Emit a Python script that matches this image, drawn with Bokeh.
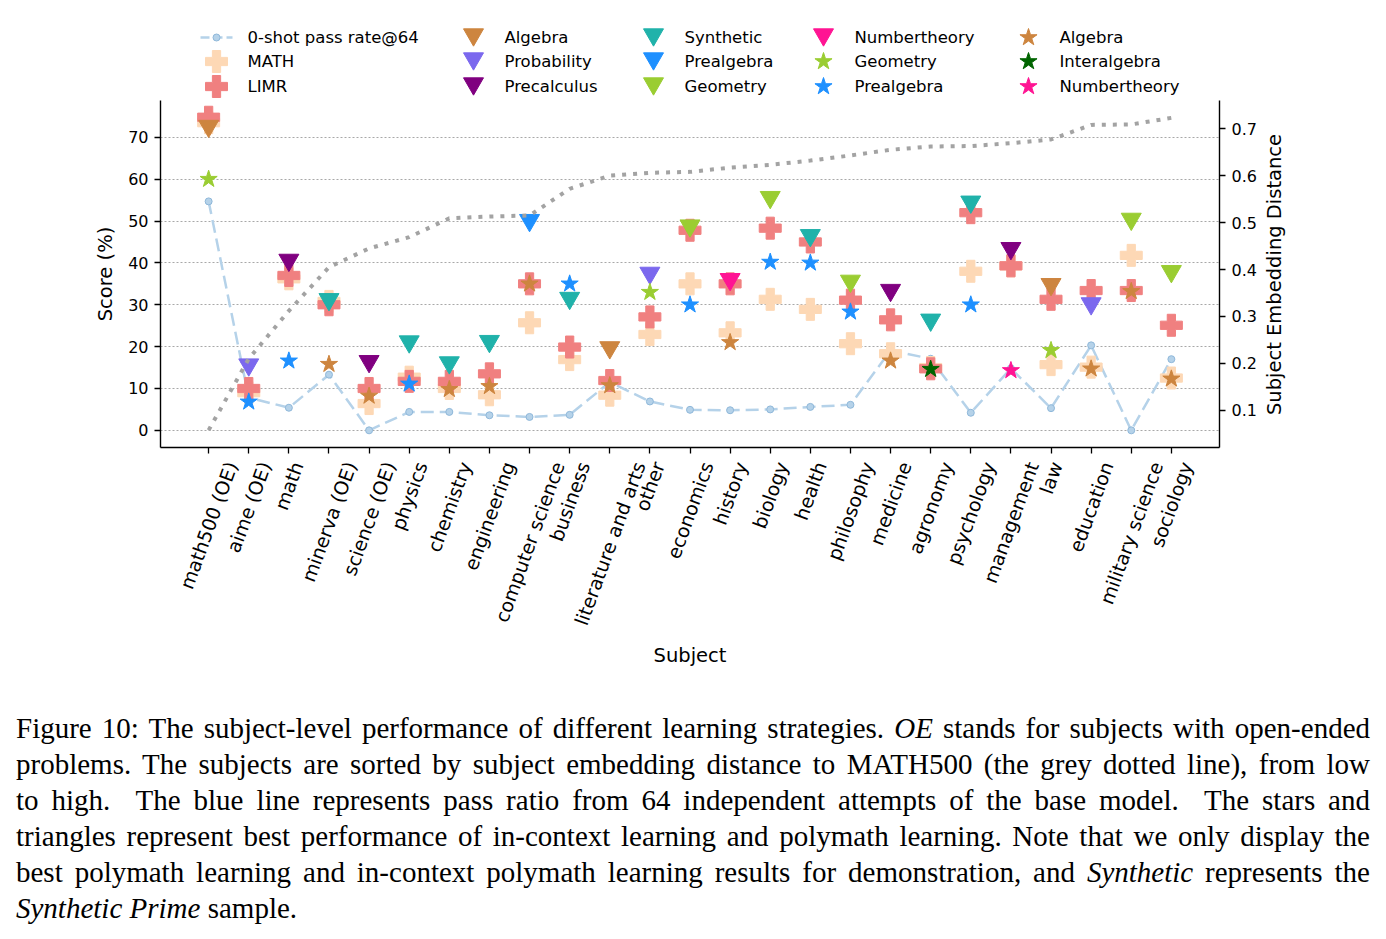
import math

from bokeh.core.properties import value
from bokeh.embed import file_html
from bokeh.layouts import column, row
from bokeh.models import (ColumnDataSource, Div, FixedTicker, Grid,
                          LinearAxis, Range1d)
from bokeh.plotting import figure
from bokeh.resources import INLINE
from bokeh.transform import dodge

# ---------------------------------------------------------------- data
subjects = [
    "math500 (OE)", "aime (OE)", "math", "minerva (OE)", "science (OE)",
    "physics", "chemistry", "engineering", "computer science", "business",
    "literature and arts", "other", "economics", "history", "biology",
    "health", "philosophy", "medicine", "agronomy", "psychology",
    "management", "law", "education", "military science", "sociology",
]

# subject embedding distance to MATH500 (right axis)
embed_dist = [0.058, 0.210, 0.312, 0.405, 0.445, 0.469, 0.509, 0.513, 0.515,
              0.572, 0.600, 0.606, 0.608, 0.617, 0.623, 0.632, 0.643, 0.655,
              0.662, 0.663, 0.669, 0.677, 0.708, 0.709, 0.723]

# 0-shot pass rate@64 of the base model (%)
pass_at_64 = [54.7, 7.8, 5.4, 13.3, 0.0, 4.4, 4.4, 3.6, 3.2, 3.7, 11.5, 6.9,
              4.9, 4.8, 5.0, 5.6, 6.1, 19.1, 17.1, 4.2, 14.8, 5.3, 20.3, 0.0,
              17.0]

math_score = [73.5, 9.0, 36.2, 30.8, 6.4, 12.7, 10.0, 8.5, 25.7, 16.9, 8.4,
              22.9, 35.0, 23.3, 31.3, 28.9, 20.7, 18.3, 15.0, 38.0, 39.3,
              15.7, 15.1, 41.8, 12.5]

limr_score = [74.8, 10.0, 37.0, 30.0, 10.0, 11.7, 11.7, 13.5, 35.0, 19.9,
              11.9, 27.1, 47.8, 35.0, 48.3, 45.0, 31.1, 26.4, 14.7, 52.0,
              39.3, 31.3, 33.4, 33.4, 25.1]

# best polymath learning result and the subject it was trained on
poly_best = [72.0, 15.0, 40.0, 30.6, 15.8, 20.5, 15.5, 20.6, 49.5, 30.9,
             19.1, 36.9, 48.2, 35.4, 55.0, 45.9, 35.0, 32.8, 25.7, 53.9,
             42.8, 34.2, 29.6, 49.8, 37.3]
poly_source = ["Algebra", "Probability", "Precalculus", "Synthetic",
               "Precalculus", "Synthetic", "Synthetic", "Synthetic",
               "Prealgebra", "Synthetic", "Algebra", "Probability",
               "Geometry", "Numbertheory", "Geometry", "Synthetic",
               "Geometry", "Precalculus", "Synthetic", "Synthetic",
               "Precalculus", "Algebra", "Probability", "Geometry",
               "Geometry"]

# best in-context learning result and the subject of its demonstrations
icl_best = [60.0, 6.8, 16.6, 15.8, 8.2, 11.1, 9.8, 10.5, 35.0, 35.0, 10.7,
            33.0, 30.0, 21.0, 40.2, 40.0, 28.3, 16.6, 14.6, 30.0, 14.3, 19.1,
            14.7, 33.2, 12.3]
icl_source = ["Geometry", "Prealgebra", "Prealgebra", "Algebra", "Algebra",
              "Prealgebra", "Algebra", "Algebra", "Algebra", "Prealgebra",
              "Algebra", "Geometry", "Prealgebra", "Algebra", "Prealgebra",
              "Prealgebra", "Prealgebra", "Algebra", "Interalgebra",
              "Prealgebra", "Numbertheory", "Geometry", "Algebra", "Algebra",
              "Algebra"]

score_ticks = [0, 10, 20, 30, 40, 50, 60, 70]
dist_ticks = [0.1, 0.2, 0.3, 0.4, 0.5, 0.6, 0.7]

poly_order = ["Algebra", "Probability", "Precalculus", "Synthetic",
              "Prealgebra", "Geometry", "Numbertheory"]
icl_order = ["Geometry", "Prealgebra", "Algebra", "Interalgebra",
             "Numbertheory"]

# ---------------------------------------------------------------- styles
SUBJECT_COLORS = {
    "Algebra": "#CD853F", "Probability": "#7B68EE", "Precalculus": "#800080",
    "Synthetic": "#20B2AA", "Prealgebra": "#1E90FF", "Geometry": "#9ACD32",
    "Numbertheory": "#FF1493", "Interalgebra": "#006400",
}
MATH_COLOR = "#FDD8B5"
LIMR_COLOR = "#F08080"
PASS_COLOR = "#B5D2E9"
PASS_EDGE = "#8FB8DA"
DIST_COLOR = "#A3A3A3"
FONT = "DejaVu Sans"

PLUS_SIZE = 22
TRI_SIZE = 20
STAR_SIZE = 18
DOT_SIZE = 7

Y_START, Y_END = -4.1, 78.8
D_START, D_END = 0.021, 0.760
X_START, X_END = -1.2, 25.2

BORDER_L, BORDER_R = 160, 167
PAGE_W = 1386
FRAME_H = 347
LEGEND_H = 100
MAIN_H = FRAME_H + 8
TICKS_H = 690 - LEGEND_H - MAIN_H
TITLE_STRIP_W = 124          # right-hand strip holding the distance title
MAIN_W = PAGE_W - TITLE_STRIP_W

n = len(subjects)
xs = list(range(n))

# inverted triangles are anchored at their centroid; lift them so the
# box centre sits on the value
tri_lift = (TRI_SIZE * math.sqrt(3) / 2 / 6) * (Y_END - Y_START) / FRAME_H

# ---------------------------------------------------------------- main plot
p = figure(width=MAIN_W, height=MAIN_H, x_range=Range1d(X_START, X_END),
           y_range=Range1d(Y_START, Y_END), x_axis_type=None,
           y_axis_type=None, toolbar_location=None, output_backend="svg",
           min_border_left=BORDER_L,
           min_border_right=BORDER_R - TITLE_STRIP_W,
           min_border_top=0, min_border_bottom=MAIN_H - FRAME_H)
p.outline_line_color = None
p.background_fill_color = "white"
p.border_fill_color = "white"
p.extra_y_ranges = {"dist": Range1d(D_START, D_END)}


def style_axis(ax, label_size="19.5px"):
    ax.axis_line_width = 1.4
    ax.axis_line_color = "black"
    ax.major_tick_line_width = 1.3
    ax.major_tick_line_color = "black"
    ax.major_tick_out = 6
    ax.major_tick_in = 0
    ax.minor_tick_out = 0
    ax.minor_tick_in = 0
    ax.major_label_text_font = FONT
    ax.major_label_text_font_size = "16px"
    ax.major_label_text_color = "black"
    ax.major_label_standoff = 6
    ax.axis_label_text_font = FONT
    ax.axis_label_text_font_size = label_size
    ax.axis_label_text_font_style = "normal"
    ax.axis_label_text_color = "black"


left_ticker = FixedTicker(ticks=score_ticks)
yaxis = LinearAxis(ticker=left_ticker, axis_label="Score (%)")
style_axis(yaxis)
yaxis.axis_label_standoff = 8
p.add_layout(yaxis, "left")

raxis = LinearAxis(y_range_name="dist", ticker=FixedTicker(ticks=dist_ticks))
style_axis(raxis)
p.add_layout(raxis, "right")

xaxis = LinearAxis(ticker=FixedTicker(ticks=xs))
style_axis(xaxis)
xaxis.major_label_overrides = {i: "" for i in xs}
xaxis.major_label_text_font_size = "0px"
xaxis.major_label_standoff = 0
p.add_layout(xaxis, "below")

p.add_layout(Grid(dimension=1, ticker=left_ticker, grid_line_color="#A8A8A8",
                  grid_line_width=1, grid_line_dash="2 2"))

# 0-shot pass rate line
p.line(xs, pass_at_64, line_color=PASS_COLOR, line_width=2.5,
       line_dash="13 6")
p.scatter(xs, pass_at_64, marker="circle", size=DOT_SIZE,
          fill_color=PASS_COLOR, line_color=PASS_EDGE, line_width=1)

# MATH and LIMR scores
p.scatter(xs, math_score, marker="plus", size=PLUS_SIZE,
          fill_color=MATH_COLOR, line_color=MATH_COLOR, line_width=1)
p.scatter(xs, limr_score, marker="plus", size=PLUS_SIZE,
          fill_color=LIMR_COLOR, line_color=LIMR_COLOR, line_width=1)

# best polymath learning (triangles), grouped by training subject
for subj in poly_order:
    idx = [i for i in xs if poly_source[i] == subj]
    src = ColumnDataSource(dict(x=idx, y=[poly_best[i] for i in idx]))
    c = SUBJECT_COLORS[subj]
    p.scatter(x="x", y=dodge("y", tri_lift), source=src,
              marker="inverted_triangle", size=TRI_SIZE, fill_color=c,
              line_color=c, line_width=1)

# best in-context learning (stars), grouped by demonstration subject
for subj in icl_order:
    idx = [i for i in xs if icl_source[i] == subj]
    src = ColumnDataSource(dict(x=idx, y=[icl_best[i] for i in idx]))
    c = SUBJECT_COLORS[subj]
    p.scatter(x="x", y="y", source=src, marker="star", size=STAR_SIZE,
              fill_color=c, line_color=c, line_width=1)

# embedding distance on the secondary axis
p.line(xs, embed_dist, y_range_name="dist", line_color=DIST_COLOR,
       line_width=4, line_dash="4 7")

# ---------------------------------------------------------------- right title
# the secondary-axis title reads bottom-to-top, beside the distance ticks
side = figure(width=TITLE_STRIP_W, height=MAIN_H,
              x_range=Range1d(0, TITLE_STRIP_W), y_range=Range1d(MAIN_H, 0),
              x_axis_type=None, y_axis_type=None, toolbar_location=None,
              output_backend="svg", min_border=0)
side.outline_line_color = None
side.grid.visible = False
side.text([12], [178], text=["Subject Embedding Distance"], angle=90,
          angle_units="deg", text_align="center", text_baseline="middle",
          text_font=value(FONT), text_font_size="19.5px", text_color="black")

# ---------------------------------------------------------------- tick labels
# a strip below the plot that shares its x range: rotated subject names,
# each centred under its tick like a 70 degree label box, and the x title
CHAR_EM = {
    "a": .613, "b": .635, "c": .550, "d": .635, "e": .615, "f": .352,
    "g": .635, "h": .634, "i": .278, "j": .278, "k": .579, "l": .278,
    "m": .974, "n": .634, "o": .612, "p": .635, "q": .635, "r": .411,
    "s": .521, "t": .392, "u": .634, "v": .592, "w": .818, "x": .592,
    "y": .592, "z": .525, " ": .318, "(": .390, ")": .390, "O": .787,
    "E": .632, "0": .636, "5": .636,
}
TICK_FONT_PX = 19
ANGLE = 70
TITLE_BORDER = 47
strip_frame_h = TICKS_H - TITLE_BORDER
LABEL_ANCHOR_Y = 7


def text_px(s, size):
    return sum(CHAR_EM.get(ch, 0.6) for ch in s) * size


ticks_fig = figure(width=PAGE_W, height=TICKS_H, x_range=p.x_range,
                   y_range=Range1d(strip_frame_h, 0), x_axis_type=None,
                   y_axis_type=None, toolbar_location=None,
                   output_backend="svg", min_border_left=BORDER_L,
                   min_border_right=BORDER_R, min_border_top=0,
                   min_border_bottom=TITLE_BORDER)
ticks_fig.outline_line_color = None
ticks_fig.grid.visible = False

label_xoff = [0.5 * text_px(s, TICK_FONT_PX) * math.cos(math.radians(ANGLE))
              for s in subjects]
label_src = ColumnDataSource(dict(x=xs, y=[LABEL_ANCHOR_Y] * n,
                                  text=subjects, xoff=label_xoff))
ticks_fig.text(x="x", y="y", text="text", source=label_src, angle=ANGLE,
               angle_units="deg", x_offset="xoff", text_align="right",
               text_baseline="middle", text_font=value(FONT),
               text_font_size=f"{TICK_FONT_PX}px", text_color="black")

title_axis = LinearAxis(ticker=FixedTicker(ticks=[]), axis_label="Subject")
style_axis(title_axis)
title_axis.axis_line_color = None
title_axis.major_tick_out = 0
title_axis.major_label_text_font_size = "0px"
title_axis.major_label_standoff = 0
title_axis.axis_label_standoff = 0
ticks_fig.add_layout(title_axis, "below")

# ---------------------------------------------------------------- legend
leg = figure(width=PAGE_W, height=LEGEND_H,
             x_range=Range1d(BORDER_L, PAGE_W - BORDER_R),
             y_range=Range1d(LEGEND_H, 0), x_axis_type=None,
             y_axis_type=None, toolbar_location=None, output_backend="svg",
             min_border_left=BORDER_L, min_border_right=BORDER_R,
             min_border_top=0, min_border_bottom=0)
leg.outline_line_color = None
leg.grid.visible = False

legend_entries = (
    [("0-shot pass rate@64", "line", PASS_COLOR),
     ("MATH", "plus", MATH_COLOR),
     ("LIMR", "plus", LIMR_COLOR)]
    + [(s, "inverted_triangle", SUBJECT_COLORS[s]) for s in poly_order]
    + [(s, "star", SUBJECT_COLORS[s]) for s in icl_order]
)
LEG_COL_X = [216, 473, 653, 823, 1028]
LEG_ROW_Y = [37, 61, 86]
LEG_TEXT_GAP = 31
LEG_SIZES = {"plus": PLUS_SIZE, "inverted_triangle": TRI_SIZE,
             "star": STAR_SIZE}

for k, (label, kind, color) in enumerate(legend_entries):
    gx, gy = LEG_COL_X[k // 3], LEG_ROW_Y[k % 3]
    if kind == "line":
        leg.line([gx - 16, gx + 16], [gy, gy], line_color=PASS_COLOR,
                 line_width=2.5, line_dash="9 4")
        leg.scatter([gx], [gy], marker="circle", size=DOT_SIZE,
                    fill_color=PASS_COLOR, line_color=PASS_EDGE)
    else:
        yy = gy - (TRI_SIZE * math.sqrt(3) / 12
                   if kind == "inverted_triangle" else 0)
        leg.scatter([gx], [yy], marker=kind, size=LEG_SIZES[kind],
                    fill_color=color, line_color=color, line_width=1)
    leg.text([gx + LEG_TEXT_GAP], [gy], text=[label], text_font=value(FONT),
             text_font_size="16.5px", text_baseline="middle",
             text_align="left", text_color="black")

# ---------------------------------------------------------------- caption
caption_lines = [
    "Figure 10: The subject-level performance of different learning "
    "strategies. <i>OE</i> stands for subjects with open-ended",
    "problems. The subjects are sorted by subject embedding distance to "
    "MATH500 (the grey dotted line), from low",
    "to high.&nbsp; The blue line represents pass ratio from 64 independent "
    "attempts of the base model.&nbsp; The stars and",
    "triangles represent best performance of in-context learning and "
    "polymath learning. Note that we only display the",
    "best polymath learning and in-context polymath learning results for "
    "demonstration, and <i>Synthetic</i> represents the",
    "<i>Synthetic Prime</i> sample.",
]
line_divs = []
for i, t in enumerate(caption_lines):
    last = "left" if i == len(caption_lines) - 1 else "justify"
    line_divs.append(
        f'<div style="text-align:justify;text-align-last:{last};">{t}</div>')
caption_html = (
    '<div style="width:1354px;margin-left:16px;padding-top:20px;'
    "font-family:'Liberation Serif','Times New Roman',serif;"
    'font-size:29px;line-height:36px;color:black;">'
    + "".join(line_divs) + "</div>"
)
caption = Div(text=caption_html, width=PAGE_W, height=249, margin=0)

layout = column(leg, row(p, side, spacing=0), ticks_fig, caption, spacing=0)
open("out.html", "w").write(file_html(layout, INLINE))
